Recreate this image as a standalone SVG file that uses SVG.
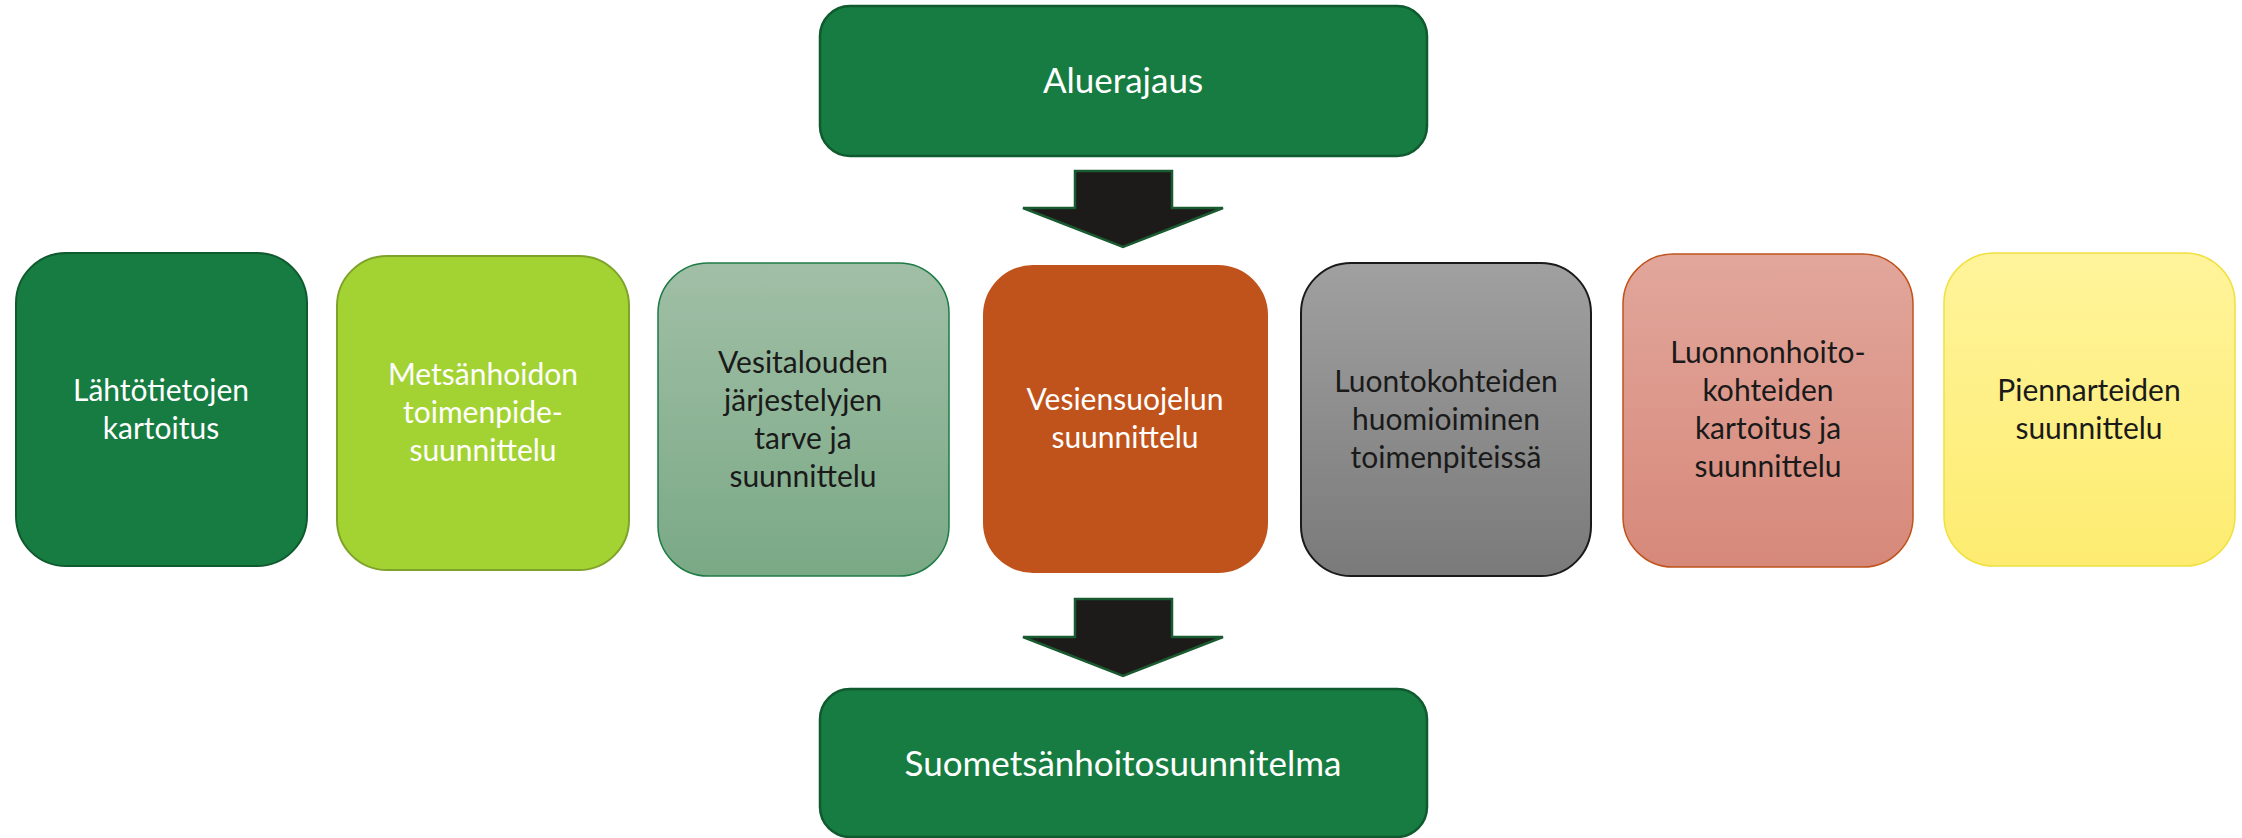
<svg xmlns="http://www.w3.org/2000/svg" width="2242" height="838" viewBox="0 0 2242 838">
<defs>
<linearGradient id="g3" x1="0" y1="0" x2="0" y2="1"><stop offset="0" stop-color="#a1bfa6"/><stop offset="1" stop-color="#7aa986"/></linearGradient>
<linearGradient id="g5" x1="0" y1="0" x2="0" y2="1"><stop offset="0" stop-color="#a0a0a0"/><stop offset="1" stop-color="#7a7a7a"/></linearGradient>
<linearGradient id="g6" x1="0" y1="0" x2="0" y2="1"><stop offset="0" stop-color="#e2a69b"/><stop offset="1" stop-color="#d6897a"/></linearGradient>
<linearGradient id="g7" x1="0" y1="0" x2="0" y2="1"><stop offset="0" stop-color="#fff49b"/><stop offset="1" stop-color="#fdec70"/></linearGradient>
</defs>
<style>
text{font-family:Lato,"Liberation Sans",sans-serif;text-anchor:middle}
.big{font-size:35px;fill:#ffffff}
.t{font-size:30px}
.w{fill:#ffffff}
.d{fill:#1a1a1a}
.arrow{fill:#1d1b19;stroke:#1a5a30;stroke-width:2.5;stroke-linejoin:miter}
</style>
<g id="connectors">
<path class="arrow" d="M1075,171 H1172 V208 H1223 L1123,247 L1023,208 H1075 Z"/>
<path class="arrow" d="M1075,599 H1172 V637 H1223 L1123,676 L1023,637 H1075 Z"/>
</g>
<g id="aluerajaus">
<rect x="820" y="6" width="607" height="150" rx="30" fill="#177c41" stroke="#0f5a2e" stroke-width="2.5"/>
<text class="big" x="1123" y="93">Aluerajaus</text>
</g>
<g id="suometsanhoitosuunnitelma">
<rect x="820" y="689" width="607" height="148" rx="30" fill="#177c41" stroke="#0f5a2e" stroke-width="2.5"/>
<text class="big" x="1123" y="776">Suometsänhoitosuunnitelma</text>
</g>
<g id="lahtotietojen">
<rect x="16" y="253" width="291" height="313" rx="50" fill="#177c41" stroke="#0f5a2e" stroke-width="2"/>
<text class="t w" x="161" y="401">Lähtötietojen</text>
<text class="t w" x="161" y="439">kartoitus</text>
</g>
<g id="metsanhoidon">
<rect x="337" y="256" width="292" height="314" rx="50" fill="#a3d333" stroke="#7fa32a" stroke-width="2"/>
<text class="t w" x="483" y="385">Metsänhoidon</text>
<text class="t w" x="483" y="423">toimenpide-</text>
<text class="t w" x="483" y="461">suunnittelu</text>
</g>
<g id="vesitalouden">
<rect x="658" y="263" width="291" height="313" rx="50" fill="url(#g3)" stroke="#1e7b45" stroke-width="1.5"/>
<text class="t d" x="803" y="373">Vesitalouden</text>
<text class="t d" x="803" y="411">järjestelyjen</text>
<text class="t d" x="803" y="449">tarve ja</text>
<text class="t d" x="803" y="487">suunnittelu</text>
</g>
<g id="vesiensuojelun">
<rect x="983" y="265" width="285" height="308" rx="50" fill="#c0531b"/>
<text class="t w" x="1125" y="410">Vesiensuojelun</text>
<text class="t w" x="1125" y="448">suunnittelu</text>
</g>
<g id="luontokohteiden">
<rect x="1301" y="263" width="290" height="313" rx="50" fill="url(#g5)" stroke="#1a1a1a" stroke-width="2"/>
<text class="t d" x="1446" y="392">Luontokohteiden</text>
<text class="t d" x="1446" y="430">huomioiminen</text>
<text class="t d" x="1446" y="468">toimenpiteissä</text>
</g>
<g id="luonnonhoitokohteiden">
<rect x="1623" y="254" width="290" height="313" rx="50" fill="url(#g6)" stroke="#c0531b" stroke-width="1.5"/>
<text class="t d" x="1768" y="363">Luonnonhoito-</text>
<text class="t d" x="1768" y="401">kohteiden</text>
<text class="t d" x="1768" y="439">kartoitus ja</text>
<text class="t d" x="1768" y="477">suunnittelu</text>
</g>
<g id="piennarteiden">
<rect x="1944" y="253" width="291" height="313" rx="50" fill="url(#g7)" stroke="#f0e040" stroke-width="1.5"/>
<text class="t d" x="2089" y="401">Piennarteiden</text>
<text class="t d" x="2089" y="439">suunnittelu</text>
</g>
</svg>
